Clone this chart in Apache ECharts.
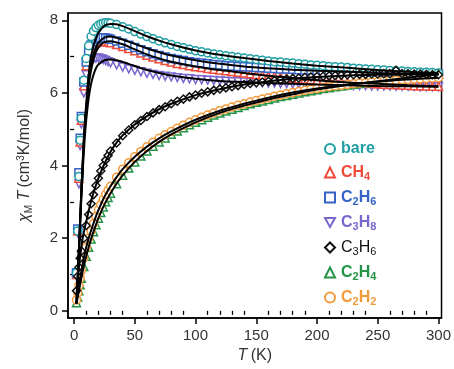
<!DOCTYPE html>
<html><head><meta charset="utf-8">
<script src="https://cdn.jsdelivr.net/npm/echarts@6/dist/echarts.min.js"></script>
<style>html,body{margin:0;padding:0;background:#fff}#c{width:454px;height:369px}</style>
</head><body><div id="c"></div>
<script>
// ---------- data ----------
const seriesNames = ['bare', 'CH4', 'C2H6', 'C3H8', 'C3H6', 'C2H4', 'C2H2'];
const dataT = [2,3,4,5,6,8,10,12,14,16,18,20,22,24,26,28,30,
  35,40,45,50,55,60,65,70,75,80,85,90,95,100,
  105,110,115,120,125,130,135,140,145,150,
  155,160,165,170,175,180,185,190,195,200,
  205,210,215,220,225,230,235,240,245,250,
  255,260,265,270,275,280,285,290,295,300];
const bare = [1.05,2.2,3.7,4.7,5.3,6.35,6.95,7.3,7.55,7.7,7.8,7.86,7.9,7.92,7.93,7.93,7.92,
  7.88,7.82,7.76,7.69,7.62,7.55,7.49,7.43,7.38,7.33,7.28,7.24,7.2,7.16,
  7.13,7.1,7.07,7.05,7.02,7.0,6.98,6.96,6.94,6.92,
  6.9,6.88,6.86,6.85,6.83,6.82,6.8,6.79,6.77,6.76,
  6.75,6.73,6.72,6.71,6.7,6.68,6.67,6.66,6.65,6.64,
  6.63,6.62,6.61,6.6,6.59,6.58,6.57,6.57,6.56,6.55];
const CH4 = [1.0,2.2,3.65,4.65,5.25,6.2,6.75,7.05,7.22,7.32,7.38,7.41,7.42,7.42,7.41,7.4,7.38,
  7.33,7.28,7.22,7.16,7.1,7.04,6.99,6.94,6.89,6.85,6.81,6.78,6.75,6.72,
  6.7,6.67,6.65,6.63,6.61,6.59,6.57,6.55,6.53,6.51,
  6.49,6.47,6.46,6.44,6.42,6.41,6.39,6.38,6.37,6.35,
  6.34,6.33,6.32,6.31,6.3,6.29,6.28,6.27,6.26,6.25,
  6.24,6.23,6.23,6.22,6.21,6.2,6.2,6.19,6.18,6.18];
const C2H6 = [1.05,2.25,3.8,4.75,5.35,6.3,6.85,7.15,7.32,7.42,7.48,7.51,7.52,7.52,7.51,7.5,7.48,
  7.43,7.37,7.31,7.25,7.19,7.13,7.08,7.03,6.99,6.95,6.92,6.89,6.86,6.84,
  6.82,6.8,6.78,6.77,6.75,6.74,6.73,6.72,6.71,6.7,
  6.69,6.68,6.67,6.66,6.66,6.65,6.64,6.63,6.63,6.62,
  6.61,6.61,6.6,6.6,6.59,6.59,6.58,6.58,6.57,6.57,
  6.56,6.56,6.55,6.55,6.54,6.54,6.53,6.53,6.52,6.52];
const C3H8 = [0.95,2.15,3.5,4.55,5.15,6.0,6.5,6.75,6.88,6.94,6.96,6.96,6.94,6.92,6.89,6.86,6.83,
  6.77,6.71,6.66,6.62,6.58,6.54,6.51,6.48,6.46,6.44,6.42,6.4,6.39,6.37,
  6.36,6.35,6.34,6.33,6.32,6.31,6.31,6.3,6.29,6.28,
  6.28,6.27,6.27,6.26,6.26,6.25,6.25,6.24,6.24,6.23,
  6.23,6.22,6.22,6.21,6.21,6.2,6.2,6.2,6.19,6.19,
  6.19,6.19,6.18,6.18,6.18,6.18,6.17,6.17,6.17,6.17];
const C3H6 = [0.55,0.95,1.2,1.45,1.65,2.0,2.35,2.65,2.95,3.2,3.45,3.65,3.85,4.0,4.15,4.28,4.4,
  4.62,4.82,4.98,5.12,5.24,5.35,5.45,5.54,5.62,5.7,5.77,5.83,5.89,5.94,
  5.99,6.03,6.07,6.11,6.14,6.17,6.2,6.23,6.26,6.28,
  6.3,6.32,6.34,6.36,6.38,6.4,6.41,6.43,6.44,6.45,
  6.46,6.47,6.48,6.49,6.5,6.5,6.51,6.51,6.52,6.52,
  6.53,6.53,6.62,6.53,6.53,6.52,6.52,6.51,6.5,6.5];
const C2H4 = [0.22,0.38,0.55,0.72,0.9,1.22,1.5,1.75,1.98,2.18,2.37,2.55,2.71,2.86,3.0,3.12,3.24,
  3.5,3.73,3.93,4.1,4.26,4.4,4.53,4.65,4.76,4.86,4.95,5.04,5.12,5.19,
  5.26,5.33,5.39,5.45,5.5,5.55,5.6,5.65,5.7,5.74,
  5.78,5.82,5.86,5.9,5.93,5.96,6.0,6.03,6.06,6.09,
  6.12,6.14,6.17,6.19,6.22,6.24,6.26,6.28,6.3,6.32,
  6.34,6.36,6.38,6.4,6.42,6.44,6.46,6.48,6.5,6.52];
const C2H2 = [0.3,0.5,0.7,0.9,1.1,1.45,1.75,2.0,2.2,2.4,2.6,2.78,2.93,3.07,3.2,3.32,3.43,
  3.68,3.9,4.08,4.24,4.39,4.52,4.64,4.75,4.85,4.94,5.03,5.11,5.19,5.26,
  5.33,5.39,5.45,5.51,5.56,5.61,5.66,5.7,5.75,5.79,
  5.83,5.87,5.91,5.94,5.98,6.01,6.04,6.07,6.1,6.12,
  6.15,6.17,6.19,6.21,6.23,6.25,6.27,6.28,6.3,6.31,
  6.33,6.34,6.35,6.36,6.37,6.38,6.39,6.4,6.41,6.42];

// fitted curves
const fitT = [2,3,4,5,6,7,8,9,10,12,14,16,18,20,25,30,35,40,50,60,70,80,100,120,140,160,180,200,225,250,275,300];
const bareFit = [0.2,0.9,1.7,2.5,3.3,4.0,4.7,5.25,5.7,6.5,7.0,7.3,7.5,7.65,7.85,7.9,7.89,7.84,7.7,7.56,7.44,7.34,7.17,7.05,6.96,6.88,6.81,6.75,6.69,6.63,6.58,6.54];
const CH4Fit = [0.2,0.9,1.7,2.5,3.3,3.95,4.6,5.15,5.55,6.2,6.62,6.92,7.12,7.25,7.4,7.42,7.39,7.34,7.2,7.06,6.95,6.86,6.73,6.63,6.55,6.47,6.41,6.35,6.29,6.25,6.21,6.18];
const C2H6Fit = [0.2,0.9,1.7,2.5,3.3,4.0,4.65,5.2,5.6,6.3,6.75,7.05,7.25,7.38,7.52,7.55,7.52,7.47,7.35,7.23,7.12,7.03,6.9,6.8,6.73,6.68,6.64,6.61,6.58,6.55,6.53,6.51];
const C3H8Fit = [0.2,0.85,1.6,2.35,3.1,3.75,4.35,4.85,5.25,5.85,6.25,6.5,6.68,6.78,6.9,6.92,6.9,6.85,6.74,6.63,6.55,6.48,6.39,6.33,6.3,6.27,6.25,6.23,6.21,6.19,6.18,6.17];
const C3H6Fit = [0.45,0.85,1.2,1.5,1.75,1.98,2.15,2.32,2.45,2.75,3.02,3.25,3.46,3.65,4.05,4.38,4.63,4.83,5.13,5.36,5.55,5.7,5.94,6.1,6.23,6.32,6.39,6.44,6.48,6.5,6.51,6.51];
const C2H4Fit = [0.2,0.37,0.55,0.73,0.9,1.07,1.22,1.37,1.5,1.75,1.98,2.18,2.37,2.55,2.93,3.24,3.5,3.73,4.1,4.4,4.65,4.86,5.19,5.45,5.65,5.82,5.96,6.09,6.22,6.32,6.42,6.52];
const C2H2Fit = [0.3,0.5,0.7,0.9,1.1,1.28,1.45,1.6,1.75,2.0,2.21,2.41,2.6,2.77,3.14,3.43,3.68,3.9,4.24,4.52,4.75,4.94,5.26,5.51,5.7,5.87,6.01,6.12,6.23,6.31,6.37,6.42];

// axis ticks
const xMajorTicks = [0,50,100,150,200,250,300];
const xMinorTicks = [10,20,30,40,60,70,80,90,110,120,130,140,160,170,180,190,210,220,230,240,260,270,280,290];
const yMajorTicks = [0,2,4,6,8];
const yMinorTicks = [1,3,5,7];

// ---------- styles ----------
const dataSets = {bare, CH4, C2H6, C3H8, C3H6, C2H4, C2H2};
const fitSets = {bare: bareFit, CH4: CH4Fit, C2H6: C2H6Fit, C3H8: C3H8Fit, C3H6: C3H6Fit, C2H4: C2H4Fit, C2H2: C2H2Fit};
const style = {
  bare: {color: '#1f9ea3', symbol: 'circle'},
  CH4:  {color: '#ee4b3b', symbol: 'triangle'},
  C2H6: {color: '#3563c6', symbol: 'rect'},
  C3H8: {color: '#7a66cf', symbol: 'path://M0,0 L10,0 L5,9 Z'},
  C3H6: {color: '#111111', symbol: 'diamond'},
  C2H4: {color: '#239447', symbol: 'triangle'},
  C2H2: {color: '#f39a3c', symbol: 'circle'}
};
const legendText = {
  bare: [['n','bare']],
  CH4: [['n','CH'],['s','4']],
  C2H6: [['n','C'],['s','2'],['n','H'],['s','6']],
  C3H8: [['n','C'],['s','3'],['n','H'],['s','8']],
  C3H6: [['n','C'],['s','3'],['n','H'],['s','6']],
  C2H4: [['n','C'],['s','2'],['n','H'],['s','4']],
  C2H2: [['n','C'],['s','2'],['n','H'],['s','2']]
};
const FONT = '"Liberation Sans", Arial, sans-serif';
const rich = {};
seriesNames.forEach((nm, i) => {
  const w = nm === 'C3H6' ? 'normal' : 'bold';
  rich['n' + i] = {color: style[nm].color, fontSize: 16, fontWeight: w, fontFamily: FONT, lineHeight: 20};
  rich['s' + i] = {color: style[nm].color, fontSize: 11, fontWeight: w, fontFamily: FONT, lineHeight: 20, padding: [8, 0, 0, 0]};
});

const drawOrder = ['C3H8', 'CH4', 'C2H6', 'bare', 'C2H4', 'C2H2', 'C3H6'];
const series = [];
drawOrder.forEach(nm => {
  series.push({
    name: nm, type: 'scatter', xAxisIndex: 0, yAxisIndex: 0,
    data: dataT.map((t, j) => [t, dataSets[nm][j]]),
    symbol: style[nm].symbol, symbolSize: 8,
    itemStyle: {color: '#ffffff', borderColor: style[nm].color, borderWidth: 1.5, opacity: 1},
    z: 2, silent: true
  });
});
drawOrder.forEach(nm => {
  series.push({
    name: nm + ' fit', type: 'line', xAxisIndex: 0, yAxisIndex: 0,
    data: fitT.map((t, j) => [t, fitSets[nm][j]]),
    showSymbol: false, smooth: 0.35,
    lineStyle: {color: '#000', width: 2},
    z: 3, silent: true
  });
});

const chart = echarts.init(document.getElementById('c'), null, {renderer: 'canvas'});
chart.setOption({
  animation: false,
  backgroundColor: '#ffffff',
  textStyle: {fontFamily: FONT},
  grid: {left: 68, right: 9, top: 13, bottom: 50, show: true, borderColor: '#000', borderWidth: 1.5, backgroundColor: 'transparent'},
  legend: {
    orient: 'vertical', left: 319, top: 136, itemWidth: 10, itemHeight: 10, itemGap: 6,
    selectedMode: false,
    data: seriesNames.map(nm => ({name: nm})),
    formatter: function (name) {
      const i = seriesNames.indexOf(name);
      return legendText[name].map(p => '{' + p[0] + i + '|' + p[1] + '}').join('');
    },
    textStyle: {rich: rich, padding: [0, 0, 0, 1]}
  },
  xAxis: [
    {
      type: 'value', min: -5, max: 302.5, position: 'bottom',
      axisLine: {show: true, onZero: false, lineStyle: {color: '#000', width: 1.5}},
      axisTick: {show: true, customValues: xMajorTicks, length: 6, lineStyle: {color: '#000', width: 1.5}},
      axisLabel: {show: true, customValues: xMajorTicks, fontSize: 15, color: '#333', margin: 10, fontFamily: FONT},
      splitLine: {show: false},
      name: '{i|T} {r|(K)}', nameLocation: 'middle', nameGap: 29,
      nameTextStyle: {rich: {i: {fontStyle: 'italic', fontSize: 16, color: '#333', fontFamily: FONT}, r: {fontSize: 16, color: '#333', fontFamily: FONT}}}
    },
    {
      type: 'value', min: -5, max: 302.5, position: 'bottom',
      axisLine: {show: false},
      axisTick: {show: true, customValues: xMinorTicks, length: 4, lineStyle: {color: '#000', width: 1.3}},
      axisLabel: {show: false},
      splitLine: {show: false}
    }
  ],
  yAxis: [
    {
      type: 'value', min: -0.2, max: 8.2, position: 'left',
      axisLine: {show: true, onZero: false, lineStyle: {color: '#000', width: 1.5}},
      axisTick: {show: true, customValues: yMajorTicks, length: 6, lineStyle: {color: '#000', width: 1.5}},
      axisLabel: {show: true, customValues: yMajorTicks, fontSize: 15, color: '#333', margin: 10, fontFamily: FONT},
      splitLine: {show: false},
      name: '{i|χ}{sub|M}{i| T} {r|(cm}{sup|3}{r|K/mol)}', nameLocation: 'middle', nameGap: 33, nameRotate: 90,
      nameTextStyle: {rich: {
        i: {fontStyle: 'italic', fontSize: 16, color: '#333', fontFamily: FONT, lineHeight: 20},
        r: {fontSize: 16, color: '#333', fontFamily: FONT, lineHeight: 20},
        sub: {fontSize: 10, color: '#333', fontFamily: FONT, lineHeight: 20, padding: [8, 0, 0, 0]},
        sup: {fontSize: 10, color: '#333', fontFamily: FONT, lineHeight: 20, padding: [0, 0, 8, 0]}
      }}
    },
    {
      type: 'value', min: -0.2, max: 8.2, position: 'left',
      axisLine: {show: false},
      axisTick: {show: true, customValues: yMinorTicks, length: 4, lineStyle: {color: '#000', width: 1.3}},
      axisLabel: {show: false},
      splitLine: {show: false}
    }
  ],
  series: series
});
</script>
</body></html>
